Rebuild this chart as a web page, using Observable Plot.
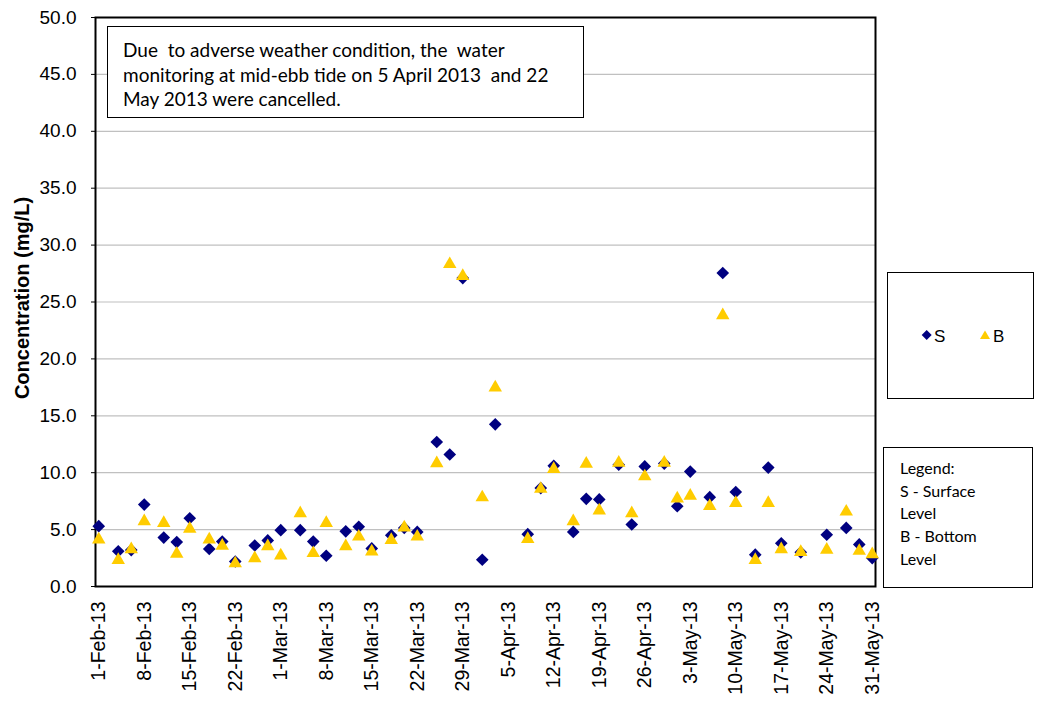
<!DOCTYPE html>
<html><head><meta charset="utf-8">
<script src="https://cdn.jsdelivr.net/npm/d3@7"></script>
<script src="https://cdn.jsdelivr.net/npm/@observablehq/plot@0.6"></script>
<style>
body{margin:0;background:#fff;}
#wrap{position:relative;width:1039px;height:703px;overflow:hidden;}
.box{position:absolute;border:1.5px solid #000;background:#fff;box-sizing:border-box;}
.cal{font-family:Lato,'Open Sans',sans-serif;color:#000;}
</style></head><body><div id="wrap"></div>
<script>
const dates = ["2013-02-01","2013-02-04","2013-02-06","2013-02-08","2013-02-11","2013-02-13","2013-02-15","2013-02-18","2013-02-20","2013-02-22","2013-02-25","2013-02-27",
"2013-03-01","2013-03-04","2013-03-06","2013-03-08","2013-03-11","2013-03-13","2013-03-15","2013-03-18","2013-03-20","2013-03-22","2013-03-25","2013-03-27","2013-03-29",
"2013-04-01","2013-04-03","2013-04-08","2013-04-10","2013-04-12","2013-04-15","2013-04-17","2013-04-19","2013-04-22","2013-04-24","2013-04-26","2013-04-29",
"2013-05-01","2013-05-03","2013-05-06","2013-05-08","2013-05-10","2013-05-13","2013-05-15","2013-05-17","2013-05-20","2013-05-24","2013-05-27","2013-05-29","2013-05-31"];
const surface = [5.3,3.1,3.2,7.2,4.3,3.9,6.0,3.3,3.95,2.2,3.6,4.05,
4.95,4.95,3.95,2.7,4.85,5.25,3.35,4.5,5.15,4.8,12.7,11.6,27.1,
2.35,14.25,4.6,8.65,10.6,4.8,7.7,7.65,10.7,5.45,10.55,10.8,
7.05,10.1,7.85,27.55,8.3,2.8,10.45,3.8,3.0,4.55,5.15,3.7,2.5];
const bottom = [4.3,2.5,3.45,5.9,5.75,3.05,5.25,4.3,3.75,2.2,2.65,3.7,
2.9,6.6,3.1,5.75,3.7,4.55,3.25,4.25,5.35,4.55,11.0,28.5,27.45,
8.0,17.65,4.35,8.75,10.5,5.9,10.95,6.85,11.05,6.6,9.85,11.05,
7.9,8.15,7.25,24.0,7.5,2.5,7.5,3.45,3.2,3.4,6.75,3.3,3.0];
const tickDates = ["2013-02-01","2013-02-08","2013-02-15","2013-02-22","2013-03-01","2013-03-08","2013-03-15","2013-03-22","2013-03-29",
"2013-04-05","2013-04-12","2013-04-19","2013-04-26","2013-05-03","2013-05-10","2013-05-17","2013-05-24","2013-05-31"];
const yTicks = [0,5,10,15,20,25,30,35,40,45,50];
const seriesNames = ["S","B"];
const yTitle = "Concentration (mg/L)";

const parse = d3.utcParse("%Y-%m-%d");
const rows = dates.map((d,i)=>({date: parse(d), s: surface[i], b: bottom[i]}));

const chart = Plot.plot({
  width:1039, height:703,
  marginLeft:95, marginRight:164, marginTop:17, marginBottom:117,
  style:{fontFamily:"'Liberation Sans', Arial, sans-serif", background:"#fff", color:"#000", overflow:"visible"},
  x:{type:"utc", domain:[new Date(Date.UTC(2013,0,31,12)), new Date(Date.UTC(2013,4,31,12))]},
  y:{domain:[0,50]},
  marks:[
    Plot.gridY(yTicks, {stroke:"#c0c0c0", strokeOpacity:1, strokeWidth:1.2}),
    Plot.axisY(yTicks, {tickFormat: d=>d.toFixed(1), tickSize:4, tickPadding:15, fontSize:19, label:null}),
    Plot.axisX(tickDates.map(parse), {tickFormat: d3.utcFormat("%-d-%b-%y"), tickRotate:-90, tickSize:0, tickPadding:15, fontSize:19.5, label:null}),
    Plot.text([yTitle], {frameAnchor:"left", dx:-73, dy:-4, rotate:-90, textAnchor:"middle", fontWeight:"bold", fontSize:20}),
    Plot.frame({stroke:"#000", strokeWidth:2}),
    Plot.dot(rows, {x:"date", y:"s", symbol:"diamond2", r:5.7, fill:"#000080"}),
    Plot.dot(rows, {x:"date", y:"b", symbol:"triangle", r:5, fill:"#ffcc00", dy:2})
  ]
});
const wrap = document.getElementById("wrap");
wrap.appendChild(chart);

const note = document.createElement("div");
note.className = "box cal";
note.style.cssText = "left:107px;top:26px;width:477px;height:92px;padding:11px 0 0 15px;font-size:19px;line-height:24.5px;white-space:pre;";
note.textContent = "Due  to adverse weather condition, the  water\nmonitoring at mid-ebb tide on 5 April 2013  and 22\nMay 2013 were cancelled.";
wrap.appendChild(note);

const leg = document.createElement("div");
leg.className = "box";
leg.style.cssText = "left:887px;top:272px;width:147px;height:127px;";
leg.innerHTML = `<svg width="147" height="127" style="position:absolute;left:-1.5px;top:-1.5px;font-family:'Liberation Sans',Arial,sans-serif;font-size:17px">
<path d="M39.7,58 L44.7,63 L39.7,68 L34.7,63 Z" fill="#000080"/>
<text x="47" y="69.5">${seriesNames[0]}</text>
<path d="M98,58.5 L103,67 L93,67 Z" fill="#ffcc00"/>
<text x="106" y="69.5">${seriesNames[1]}</text></svg>`;
wrap.appendChild(leg);

const leg2 = document.createElement("div");
leg2.className = "box cal";
leg2.style.cssText = "left:883px;top:447px;width:150px;height:141px;padding:9px 0 0 16px;font-size:16px;line-height:22.7px;white-space:pre;";
leg2.textContent = "Legend:\nS - Surface\nLevel\nB - Bottom\nLevel";
wrap.appendChild(leg2);
</script></body></html>
